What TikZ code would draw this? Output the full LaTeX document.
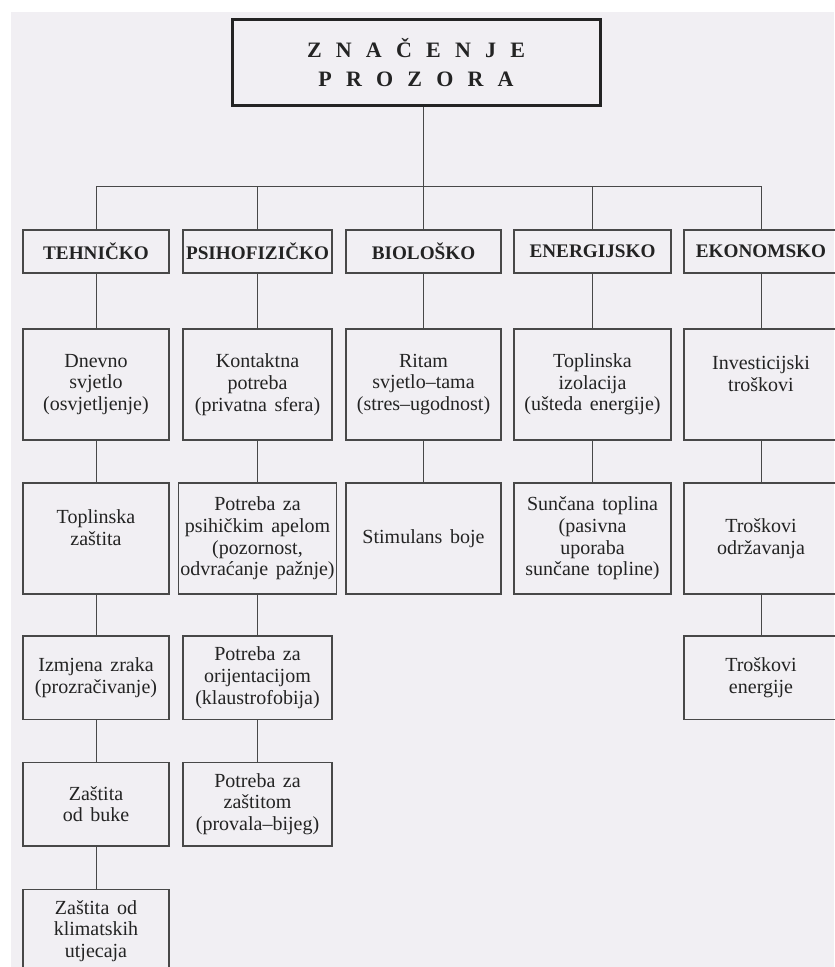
\documentclass[tikz,border=0pt]{standalone}
\usepackage{fontspec}
\setmainfont{Liberation Serif}
\usepackage{tikz}
\usetikzlibrary{positioning}
\definecolor{cPaper}{RGB}{241,239,243}
\definecolor{cLine}{RGB}{72,72,72}
\definecolor{cInk}{RGB}{35,35,35}
\newcommand{\BodyFont}{\fontsize{10}{10.85}\selectfont\spaceskip=0.38em\relax}
\newcommand{\TitleFont}{\bfseries\fontsize{11}{14.5}\selectfont\spaceskip=7.1pt\relax}

\begin{document}
\begin{tikzpicture}[x=0.5pt,y=-0.5pt,
   box/.style={draw=cLine,line width=0.75pt,inner sep=1pt,align=center,text=cInk,
     font=\BodyFont},
   hdr/.style={box,minimum height=21.5pt,font=\bfseries\fontsize{9.6}{11}\selectfont},
   title/.style={draw=cInk,line width=1.5pt,minimum width=184pt,minimum height=43pt,
     align=center,text=cInk,font=\TitleFont},
   tall/.style={minimum height=55.5pt},
   low/.style={minimum height=41.75pt},
   wT/.style={minimum width=73pt},  wP/.style={minimum width=74.5pt},
   wB/.style={minimum width=77.5pt}, wE/.style={minimum width=78.5pt},
   wK/.style={minimum width=77pt},
   link/.style={draw=cLine,line width=0.5pt}]
  % paper
  \useasboundingbox (0,0) rectangle (834,967);
  \fill[cPaper] (11,12) rectangle (834,967);
  % title
  \node[title] (top) at (416,63) {Z N A Č E N J E\\P R O Z O R A};
  % headers
  \foreach \n/\x/\w/\t in {teh/96/wT/TEHNIČKO, psi/257.5/wP/PSIHOFIZIČKO,
      bio/423.5/wB/BIOLOŠKO, ene/592.5/wE/ENERGIJSKO, eko/761/wK/EKONOMSKO}
    \node[hdr,\w] (\n) at (\x,251.5) {\t};
  % second row
  \node[box,tall,wT] (teh2) at (96,384.5) {Dnevno\\svjetlo\\(osvjetljenje)};
  \node[box,tall,wP] (psi2) at (257.5,384.5) {Kontaktna\\potreba\\(privatna sfera)};
  \node[box,tall,wB] (bio2) at (423.5,384.5) {Ritam\\svjetlo--tama\\(stres--ugodnost)};
  \node[box,tall,wE] (ene2) at (592.5,384.5) {Toplinska\\izolacija\\(ušteda energije)};
  \node[box,tall,wK] (eko2) at (761,384.5) {Investicijski\\troškovi\\~};
  % third row
  \node[box,tall,wT] (teh3) at (96,538.5) {Toplinska\\zaštita\\~};
  \node[box,tall,wP] (psi3) at (257.5,538.5) {Potreba za\\psihičkim apelom\\(pozornost,\\odvraćanje pažnje)};
  \node[box,tall,wB] (bio3) at (423.5,538.5) {Stimulans boje};
  \node[box,tall,wE] (ene3) at (592.5,538.5) {Sunčana toplina\\(pasivna\\uporaba\\sunčane topline)};
  \node[box,tall,wK] (eko3) at (761,538.5) {Troškovi\\održavanja};
  % fourth row
  \node[box,low,wT] (teh4) at (96,677.5) {Izmjena zraka\\(prozračivanje)};
  \node[box,low,wP] (psi4) at (257.5,677.5) {Potreba za\\orijentacijom\\(klaustrofobija)};
  \node[box,low,wK] (eko4) at (761,677.5) {Troškovi\\energije};
  % fifth and sixth row
  \node[box,low,wT] (teh5) at (96,804) {Zaštita\\od buke};
  \node[box,low,wP] (psi5) at (257.5,804) {Potreba za\\zaštitom\\(provala--bijeg)};
  \node[box,low,wT] (teh6) at (96,931) {Zaštita od\\klimatskih\\utjecaja};
  % connectors
  \coordinate (bus) at (0,187);
  \draw[link] (top.south -| bio.north) -- (bio.north);
  \draw[link] (teh.north) -- (teh.north |- bus) -- (eko.north |- bus) -- (eko.north);
  \foreach \n in {psi,ene}
    \draw[link] (\n.north) -- (\n.north |- bus);
  \foreach \a/\b in {teh/teh2,teh2/teh3,teh3/teh4,teh4/teh5,teh5/teh6,
      psi/psi2,psi2/psi3,psi3/psi4,psi4/psi5,bio/bio2,bio2/bio3,
      ene/ene2,ene2/ene3,eko/eko2,eko2/eko3,eko3/eko4}
    \draw[link] (\a) -- (\b);
\end{tikzpicture}
\end{document}
